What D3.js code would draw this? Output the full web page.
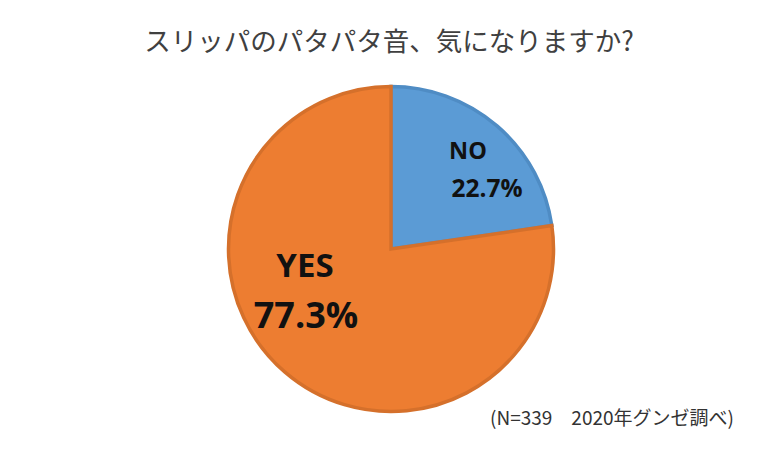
<!DOCTYPE html>
<html><head><meta charset="utf-8">
<script src="https://cdn.jsdelivr.net/npm/d3@7"></script>
<style>body{margin:0;background:#fff}</style>
</head><body>
<svg id="c" width="780" height="450"></svg>
<script>
const categories = ["NO", "YES"];
const values = [22.7, 77.3];
const labels = ["22.7%", "77.3%"];
const title = "スリッパのパタパタ音、気になりますか?";
const note = "(N=339　2020年グンゼ調べ)";

const fills = ["#5B9BD5", "#ED7D31"];
const strokes = ["#4F8CC4", "#D5702B"];

const svg = d3.select("#c");
svg.append("rect").attr("width",780).attr("height",450).attr("fill","#fff");
const cx = 391, cy = 249, r = 164;
const pie = d3.pie().sort(null).value(d => d)(values);
const arc = d3.arc().innerRadius(0).outerRadius(r - 1.5);
const g = svg.append("g").attr("transform", `translate(${cx},${cy})`);
g.selectAll("path").data(pie).join("path")
  .attr("d", arc)
  .attr("fill", (d,i) => fills[i])
  .attr("stroke", (d,i) => strokes[i])
  .attr("stroke-width", 3.5)
  .attr("stroke-linejoin","miter");

svg.append("text").attr("x", 389).attr("y", 51).attr("text-anchor","middle")
  .attr("font-family","'Noto Sans CJK JP', sans-serif").attr("font-size", 26.5)
  .attr("fill","#404040").text(title);

// labels
const lab = [
  {x:[468,487], y:[159,197], fs:[23.5,24.5]},
  {x:[305,306], y:[277,328], fs:[33,36]}
];
categories.forEach((c,i) => {
  const t = svg.append("text").attr("text-anchor", "middle")
    .attr("font-family","'Open Sans', 'Noto Sans', sans-serif").attr("font-weight","bold").attr("fill","#111");
  t.append("tspan").attr("x", lab[i].x[0]).attr("y", lab[i].y[0]).attr("font-size", lab[i].fs[0]).text(c);
  t.append("tspan").attr("x", lab[i].x[1]).attr("y", lab[i].y[1]).attr("font-size", lab[i].fs[1]).text(labels[i]);
});

svg.append("text").attr("x", 490).attr("y", 425)
  .attr("font-family","'Noto Sans CJK JP', sans-serif").attr("font-size", 19)
  .attr("fill","#333").text(note);
</script>
</body></html>
